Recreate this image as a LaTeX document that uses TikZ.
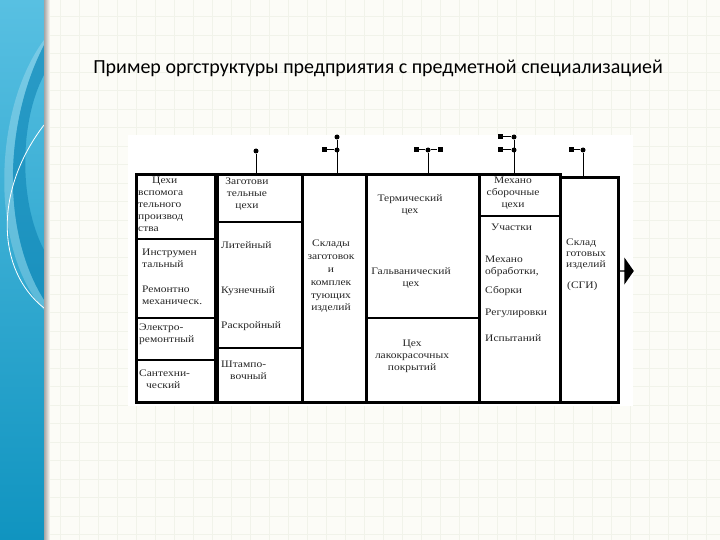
\documentclass[tikz,border=0pt]{standalone}
\usepackage{fontspec}
\setmainfont{Liberation Serif}
\newfontfamily\titlefont{Carlito}
\newfontfamily\scanfont[FakeStretch=1.15]{Liberation Serif}
\usetikzlibrary{shapes.arrows,calc}
\definecolor{slidebg}{RGB}{252,252,247}
\definecolor{gridln}{RGB}{241,243,234}
\definecolor{stripA}{RGB}{88,192,226}
\definecolor{stripB}{RGB}{16,148,192}
\definecolor{stripC}{RGB}{8,128,178}
\tikzset{
  col/.style={draw, line width=2.6pt, anchor=north west, inner sep=0pt},
  sepA/.style={line width=2.2pt},
  sepB/.style={line width=1.2pt},
  lbl/.style={anchor=north west, inner sep=0pt, align=left, text=black!85,
              font=\scanfont\fontsize{10}{12}\selectfont},
  clbl/.style={anchor=north, inner sep=0pt, align=center, text=black!85,
               font=\scanfont\fontsize{10}{12}\selectfont},
  valve/.style={circle, fill=black, inner sep=0pt, minimum size=5pt},
  gate/.style={rectangle, fill=black, inner sep=0pt, minimum size=5pt},
  stub/.style={line width=1pt},
}
\begin{document}
\begin{tikzpicture}[x=1pt, y=-1pt]
        \useasboundingbox (0,0) rectangle (720,540);
        \fill[slidebg] (0,0) rectangle (720,540);
        \foreach \k in {0,...,34} \draw[gridln, line width=0.8pt] ({60+19*\k},0) -- ({60+19*\k},540);
        \foreach \k in {0,...,28} \draw[gridln, line width=0.8pt] (44,{16.5+18.5*\k}) -- (720,{16.5+18.5*\k});
        \fill[white] (128,135) rectangle (633,406);

        \shade[top color=stripA, bottom color=stripB] (0,0) rectangle (44,540);
        \begin{scope}
          \clip (0,0) rectangle (44,540);
          \fill[stripC, opacity=0.55] (44,45) .. controls (5,120) and (0,230) .. (44,300) -- (44,250) .. controls (18,200) and (20,120) .. (44,75) -- cycle;
          \fill[white, opacity=0.22] (44,40) .. controls (-8,110) and (-10,250) .. (44,310) -- (44,300) .. controls (0,230) and (5,120) .. (44,45) -- cycle;
          \draw[white, line width=0.8pt] (44,125) .. controls (-6,190) and (-4,270) .. (44,308);
        \end{scope}
        \shade[left color=black!35, right color=slidebg] (44,0) rectangle (50,540);

        \node[font=\titlefont\fontsize{20}{24}\selectfont, anchor=base] (title) at (378,74) {Пример оргструктуры предприятия с предметной специализацией};

        \node[col, minimum width=79pt, minimum height=228pt] (col1) at (135,173) {};
        \node[col, minimum width=84.5pt, minimum height=228pt] (col2) at (216.5,173) {};
        \node[col, minimum width=64pt, minimum height=228pt] (col3) at (301,173) {};
        \node[col, minimum width=113pt, minimum height=228pt] (col4) at (365,173) {};
        \node[col, minimum width=81pt, minimum height=228pt] (col5) at (478,173) {};
        \node[col, minimum width=58pt, minimum height=225pt] (col6) at (559,176) {};

        \draw[sepA] (col1.west |- 0,239) -- (col1.east |- 0,239);
        \draw[sepB] (col1.west |- 0,318) -- (col1.east |- 0,318);
        \draw[sepB] (col1.west |- 0,360) -- (col1.east |- 0,360);
        \draw[sepA] (col2.west |- 0,222) -- (col2.east |- 0,222);
        \draw[sepB] (col2.west |- 0,348) -- (col2.east |- 0,348);
        \draw[sepB] (col4.west |- 0,318) -- (col4.east |- 0,318);
        \draw[sepA] (col5.west |- 0,216) -- (col5.east |- 0,216);

        \node[valve] (v1) at (256,151) {};
        \node[valve] (v2a) at (337,137) {};
        \node[valve] (v2b) at (337,150) {};
        \node[gate] (g2) at (324,150) {};
        \node[valve] (v3) at (428,150) {};
        \node[gate] (g3a) at (416,150) {};
        \node[gate] (g3b) at (440,150) {};
        \node[valve] (v4a) at (514,137) {};
        \node[valve] (v4b) at (514,150) {};
        \node[gate] (g4a) at (500,137) {};
        \node[gate] (g4b) at (500,150) {};
        \node[valve] (v5) at (583,150) {};
        \node[gate] (g5) at (571,150) {};

        \draw[stub] (v1) -- (v1 |- col2.north);
        \draw[stub] (v2a) -- (v2a |- col3.north);
        \draw[stub] (g2) -- (v2b);
        \draw[stub] (v3) -- (v3 |- col4.north);
        \draw[stub] (g3a) -- (v3);
        \draw[stub] (v3) -- (g3b);
        \draw[stub] (v4a) -- (v4a |- col5.north);
        \draw[stub] (g4a) -- (v4a);
        \draw[stub] (g4b) -- (v4b);
        \draw[stub] (v5) -- (v5 |- col6.north);
        \draw[stub] (g5) -- (v5);

        \node[single arrow, fill=black, anchor=tail, inner sep=0pt, minimum height=14pt, minimum width=27pt,
              single arrow head extend=3.5pt, single arrow tip angle=110] (out) at (col6.east |- 0,271) {};

        \node[lbl] (t1) at (138,177) {\hspace*{14pt}Цехи\\вспомога\\тельного\\производ\\ства};
        \node[lbl] (t2) at (142,249) {Инструмен\\тальный};
        \node[lbl] (t3) at (142,286) {Ремонтно\\механическ.};
        \node[lbl] (t4) at (139,324) {Электро-\\ремонтный};
        \node[lbl] (t5) at (139,370) {Сантехни-\\\hspace*{7pt}ческий};

        \node[clbl] (t6) at (247,178) {Заготови\\тельные\\цехи};
        \node[lbl] (t7) at (221,241) {Литейный};
        \node[lbl] (t8) at (221,286) {Кузнечный};
        \node[lbl] (t9) at (221,321) {Раскройный};
        \node[lbl] (t10) at (221,361) {Штампо-\\\hspace*{9pt}вочный};

        \node[clbl, font=\scanfont\fontsize{10}{12.8}\selectfont] (t11) at (331,240) {Склады\\заготовок\\и\\комплек\\тующих\\изделий};

        \node[clbl] (t12) at (410,194) {Термический\\цех};
        \node[clbl] (t13) at (411,267) {Гальванический\\цех};
        \node[clbl] (t14) at (412,340) {Цех\\лакокрасочных\\покрытий};

        \node[clbl] (t15) at (513,177) {Механо\\сборочные\\цехи};
        \node[lbl] (t16) at (491,224) {Участки};
        \node[lbl] (t17) at (485,256) {Механо\\обработки,};
        \node[lbl] (t18) at (485,286) {Сборки};
        \node[lbl] (t19) at (485,309) {Регулировки};
        \node[lbl] (t20) at (485,334) {Испытаний};

        \node[lbl, font=\scanfont\fontsize{10}{11}\selectfont] (t21) at (566,239) {Склад\\готовых\\изделий};
        \node[lbl] (t22) at (567,281) {(СГИ)};
\end{tikzpicture}
\end{document}
